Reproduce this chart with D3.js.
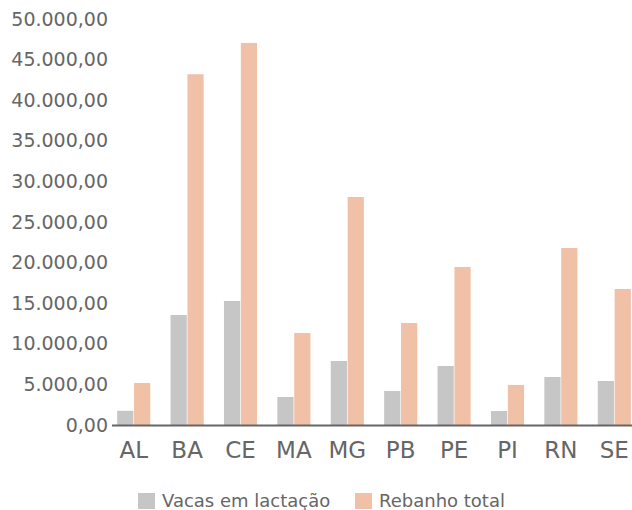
<!DOCTYPE html>
<html>
<head>
<meta charset="utf-8">
<script src="https://cdn.jsdelivr.net/npm/d3@7"></script>
<style>
  body { margin: 0; background: #fff; }
  svg { display: block; font-family: "DejaVu Sans", sans-serif; }
</style>
</head>
<body>
<svg id="chart" width="632" height="510"></svg>
<script>
// states and herd numbers
var states = ["AL", "BA", "CE", "MA", "MG", "PB", "PE", "PI", "RN", "SE"];
var vacasLactacao = [1750, 13550, 15270, 3450, 7880, 4190, 7270, 1720, 5910, 5420];
var rebanhoTotal = [5170, 43200, 47050, 11330, 28080, 12560, 19460, 4930, 21800, 16750];
var seriesNames = ["Vacas em lactação", "Rebanho total"];
var seriesColors = ["#c6c6c6", "#f0c1a6"];
var yTicks = d3.range(0, 50001, 5000);

var svg = d3.select("#chart");
var textColor = "#666666";

var locale = d3.formatLocale({decimal: ",", thousands: ".", grouping: [3], currency: ["R$", ""]});
var fmt = locale.format(",.2f");

var x = d3.scaleBand()
          .domain(states)
          .range([107, 641])
          .paddingInner(0.38)
          .paddingOuter(0.19);
var xInner = d3.scaleBand()
               .domain([0, 1])
               .range([0, x.bandwidth()])
               .paddingInner(0.04);
var y = d3.scaleLinear()
          .domain([0, 50000])
          .range([425, 19]);

// y tick labels (no axis line)
var yAxisG = svg.append("g")
    .attr("transform", "translate(108,0)")
    .call(d3.axisLeft(y).tickValues(yTicks).tickFormat(fmt).tickSize(0).tickPadding(0));
yAxisG.select(".domain").remove();
yAxisG.selectAll("text")
      .attr("fill", textColor)
      .style("font-size", "19px")
      .style("font-family", "DejaVu Sans, sans-serif");

// bars
var data = states.map(function(s, i) { return [vacasLactacao[i], rebanhoTotal[i]]; });
var groups = svg.append("g")
    .selectAll("g")
    .data(data)
    .join("g")
    .attr("transform", (d, i) => "translate(" + x(states[i]) + ",0)");
groups.selectAll("rect")
      .data(d => d)
      .join("rect")
      .attr("x", (d, j) => xInner(j))
      .attr("width", xInner.bandwidth())
      .attr("y", d => y(d))
      .attr("height", d => y(0) - y(d))
      .attr("fill", (d, j) => seriesColors[j]);

// x axis
var xAxisG = svg.append("g")
    .attr("transform", "translate(0," + y(0) + ")")
    .call(d3.axisBottom(x).tickSize(0).tickPadding(17));
xAxisG.select(".domain").remove();
xAxisG.append("line")
      .attr("x1", 112)
      .attr("x2", 632)
      .attr("y1", 0.5)
      .attr("y2", 0.5)
      .attr("stroke", "#666")
      .attr("stroke-width", 2);
xAxisG.selectAll("text")
      .attr("fill", textColor)
      .style("font-size", "23px")
      .style("font-family", "DejaVu Sans, sans-serif");

// legend
var legendX = [138, 355];
var legend = svg.append("g")
    .selectAll("g")
    .data(seriesNames)
    .join("g")
    .attr("transform", (d, i) => "translate(" + legendX[i] + ",493)");
legend.append("rect")
      .attr("width", 17)
      .attr("height", 16)
      .attr("fill", (d, i) => seriesColors[i]);
legend.append("text")
      .attr("x", 24)
      .attr("y", 14)
      .attr("fill", textColor)
      .style("font-size", "18px")
      .text(d => d);
</script>
</body>
</html>
